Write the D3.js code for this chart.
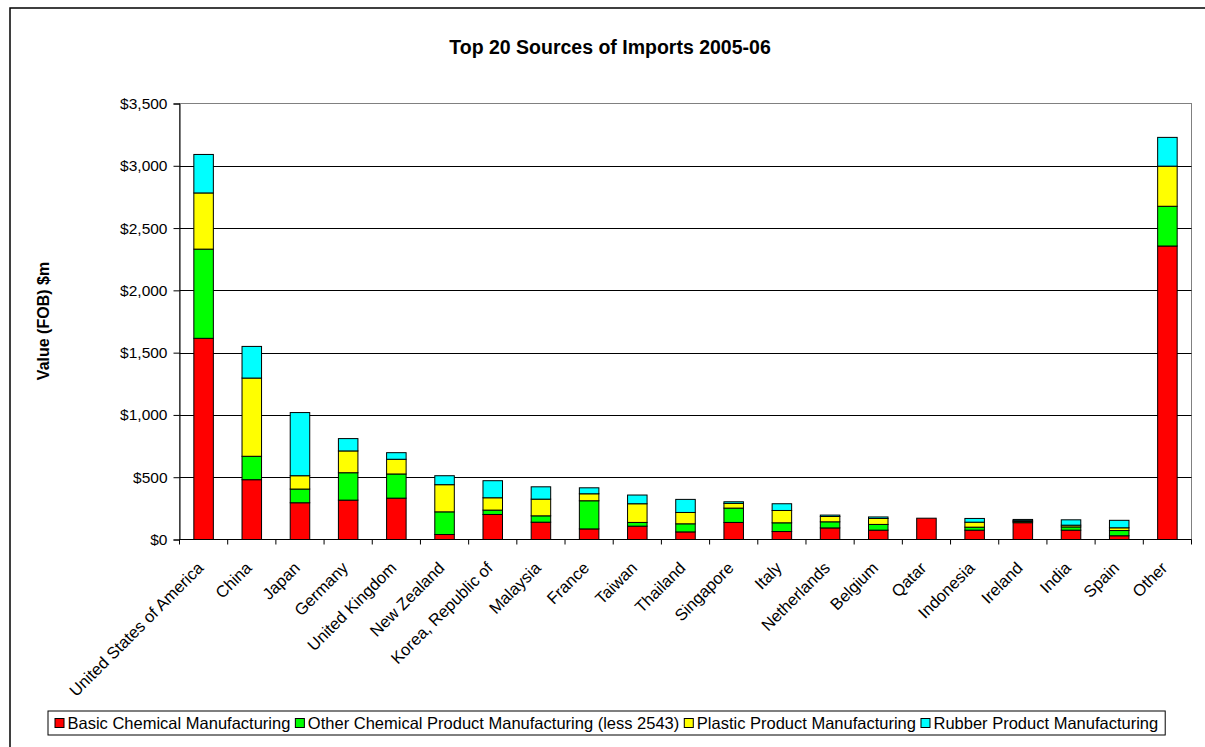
<!DOCTYPE html>
<html>
<head>
<meta charset="utf-8">
<script src="https://cdn.jsdelivr.net/npm/d3@7"></script>
<style>
  html, body { margin: 0; padding: 0; background: #fff; }
  svg { display: block; font-family: "Liberation Sans", Arial, sans-serif; }
</style>
</head>
<body>
<svg id="chart" width="1205" height="747"></svg>
<script>
const categories = ["United States of America","China","Japan","Germany","United Kingdom","New Zealand","Korea, Republic of","Malaysia","France","Taiwan","Thailand","Singapore","Italy","Netherlands","Belgium","Qatar","Indonesia","Ireland","India","Spain","Other"];
const basicChemical = [1615,480,295,316,332,40,201,139,85,107,61,137,64,93,75,171,75,135,75,30,2356];
const otherChemical = [716,188,110,220,194,182,35,51,226,30,65,115,70,49,46,0,24,10,26,42,319];
const plasticProduct = [451,628,107,175,118,218,99,134,56,150,91,38,99,43,48,0,40,6,14,22,322];
const rubberProduct = [309,254,507,99,53,72,137,99,48,70,105,13,54,11,12,0,30,10,43,60,231];
const seriesNames = ["Basic Chemical Manufacturing","Other Chemical Product Manufacturing (less 2543)","Plastic Product Manufacturing","Rubber Product Manufacturing"];
const seriesColors = ["#FF0000","#00FF00","#FFFF00","#00FFFF"];
const yTicks = [0,500,1000,1500,2000,2500,3000,3500];
const chartTitle = "Top 20 Sources of Imports 2005-06";
const yTitle = "Value (FOB) $m";

(function () {
const svg = d3.select("#chart");
const pLeft = 179.5, pRight = 1191.5, pTop = 103.5, pBottom = 539.5;

// chart area border
svg.append("rect").attr("x", 10).attr("y", 8).attr("width", 1300).attr("height", 900)
  .attr("fill", "#fff").attr("stroke", "#000").attr("stroke-width", 1.5);

const x = d3.scaleBand().domain(categories).range([pLeft, pRight]).padding(0);
const y = d3.scaleLinear().domain([0, 3500]).range([pBottom, pTop]);
const barW = x.bandwidth() * 0.405;

// plot area border (gray)
svg.append("rect").attr("x", pLeft).attr("y", pTop).attr("width", pRight - pLeft).attr("height", pBottom - pTop)
  .attr("fill", "#fff").attr("stroke", "#808080").attr("stroke-width", 1);

// gridlines
svg.append("g").selectAll("line").data(yTicks.filter(t => t > 0 && t < 3500)).join("line")
  .attr("x1", pLeft).attr("x2", pRight)
  .attr("y1", d => Math.round(y(d)) + 0.5).attr("y2", d => Math.round(y(d)) + 0.5)
  .attr("stroke", "#000").attr("stroke-width", 1);

// stacked bars
const rows = categories.map((c, i) => ({cat: c, s0: basicChemical[i], s1: otherChemical[i], s2: plasticProduct[i], s3: rubberProduct[i]}));
const stack = d3.stack().keys(["s0","s1","s2","s3"]);
const layers = stack(rows);
svg.append("g").selectAll("g").data(layers).join("g")
  .attr("fill", (d, i) => seriesColors[i])
  .selectAll("rect").data(d => d.filter(p => p[1] - p[0] > 0)).join("rect")
  .attr("x", d => x(d.data.cat) + x.bandwidth() / 2 - barW / 2)
  .attr("y", d => y(d[1]))
  .attr("width", barW)
  .attr("height", d => y(d[0]) - y(d[1]))
  .attr("stroke", "#000").attr("stroke-width", 1);

// y axis
const yAxis = d3.axisLeft(y).tickValues(yTicks).tickFormat(d3.format("$,.0f")).tickSize(6).tickPadding(6);
const gy = svg.append("g").attr("transform", `translate(${pLeft},0)`).call(yAxis);
gy.select(".domain").attr("stroke", "#000");
gy.selectAll(".tick line").attr("stroke", "#000");
gy.selectAll("text").attr("font-size", 15.5).attr("fill", "#000").attr("font-family", "Liberation Sans, Arial, sans-serif");

// x axis
const gx = svg.append("g").attr("transform", `translate(0,${pBottom})`);
gx.append("line").attr("x1", pLeft).attr("x2", pRight).attr("y1", 0).attr("y2", 0).attr("stroke", "#000");
const tickPos = categories.map(c => x(c)).concat([pRight]);
gx.selectAll("line.tk").data(tickPos).join("line").attr("class", "tk")
  .attr("x1", d => d).attr("x2", d => d).attr("y1", 0).attr("y2", 5).attr("stroke", "#000");
svg.append("g").selectAll("text").data(categories).join("text")
  .attr("transform", d => `translate(${x(d) + x.bandwidth() / 2 + 1},569) rotate(-45)`)
  .attr("text-anchor", "end").attr("font-size", 16.5).attr("fill", "#000")
  .text(d => d);

// title
svg.append("text").attr("x", 610).attr("y", 54).attr("text-anchor", "middle")
  .attr("font-size", 19.5).attr("font-weight", "bold").text(chartTitle);

// y title
svg.append("text").attr("transform", "translate(49,321) rotate(-90)").attr("text-anchor", "middle")
  .attr("font-size", 16).attr("font-weight", "bold").text(yTitle);

// legend
const lg = svg.append("g");
const lgBox = lg.append("rect").attr("y", 711).attr("height", 24).attr("fill", "#fff").attr("stroke", "#000").attr("stroke-width", 1);
let lx = 55;
seriesNames.forEach((name, i) => {
  lg.append("rect").attr("x", lx).attr("y", 718.5).attr("width", 9).attr("height", 9)
    .attr("fill", seriesColors[i]).attr("stroke", "#000").attr("stroke-width", 1);
  const t = lg.append("text").attr("x", lx + 12.5).attr("y", 729).attr("font-size", 16.5).text(name);
  lx += 12.5 + t.node().getComputedTextLength() + 5;
});
lgBox.attr("x", 48).attr("width", lx - 48 + 2);
})();
</script>
</body>
</html>
